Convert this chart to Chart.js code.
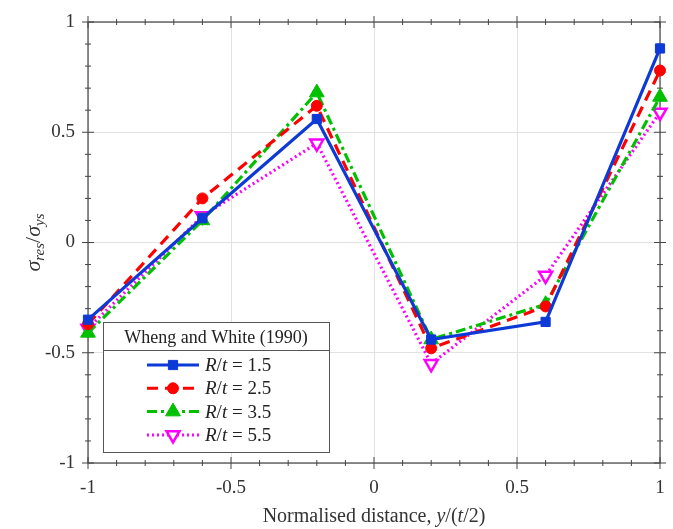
<!DOCTYPE html>
<html>
<head>
<meta charset="utf-8">
<script src="https://cdn.jsdelivr.net/npm/chart.js@4.4.1/dist/chart.umd.min.js"></script>
<style>
  html, body { margin: 0; padding: 0; background: #fff; }
  #wrap { width: 673px; height: 529px; position: relative; }
</style>
</head>
<body>
<div id="wrap"><canvas id="chart"></canvas></div>
<script>
// positions y/(t/2)
const xPositions = [-1, -0.6, -0.2, 0.2, 0.6, 1];
const rt15 = [-0.35, 0.11, 0.56, -0.44, -0.36, 0.88];
const rt25 = [-0.37, 0.20, 0.62, -0.48, -0.29, 0.78];
const rt35 = [-0.41, 0.10, 0.68, -0.44, -0.28, 0.66];
const rt55 = [-0.39, 0.12, 0.45, -0.55, -0.15, 0.59];
const seriesLabels = ["1.5", "2.5", "3.5", "5.5"];
const legendTitle = "Wheng and White (1990)";
const xTicks = [-1, -0.5, 0, 0.5, 1];
const yTicks = [-1, -0.5, 0, 0.5, 1];

const serif = "'Liberation Serif', 'DejaVu Serif', serif";
const axisColor = "#444";

function pts(ys) {
  return xPositions.map((x, i) => ({ x: x, y: ys[i] }));
}

const datasets = [
  {
    label: seriesLabels[0], data: pts(rt15),
    borderColor: "#0d3ad6", backgroundColor: "#0d3ad6",
    borderWidth: 3.2, borderDash: [],
    pointStyle: "rect", pointRadius: 6.5, pointRotation: 0
  },
  {
    label: seriesLabels[1], data: pts(rt25),
    borderColor: "#ff0000", backgroundColor: "#ff0000",
    borderWidth: 3.2, borderDash: [11, 7],
    pointStyle: "circle", pointRadius: 5.5, pointRotation: 0
  },
  {
    label: seriesLabels[2], data: pts(rt35),
    borderColor: "#00c000", backgroundColor: "#00c000",
    borderWidth: 3.2, borderDash: [10, 4, 3, 4],
    pointStyle: "triangle", pointRadius: 8.5, pointRotation: 0
  },
  {
    label: seriesLabels[3], data: pts(rt55),
    borderColor: "#ff00ff", backgroundColor: "#ffffff",
    borderWidth: 3.2, borderDash: [2, 3],
    pointStyle: "triangle", pointRadius: 7.5, pointRotation: 180
  }
];
datasets.forEach((d) => {
  d.pointBorderWidth = d.pointStyle === "triangle" && d.pointRotation ? 2.5 : 1;
  d.clip = false;
});

// frame, crossing ticks, titles, legend
const decor = {
  id: "decor",
  beforeDatasetsDraw(chart) {
    const ctx = chart.ctx;
    const a = chart.chartArea;
    const xs = chart.scales.x;
    const ys = chart.scales.y;
    ctx.save();
    ctx.strokeStyle = axisColor;
    ctx.lineWidth = 1.2;
    ctx.strokeRect(a.left, a.top, a.right - a.left, a.bottom - a.top);

    ctx.lineWidth = 1;
    for (let i = -10; i <= 10; i++) {
      const v = i / 10;
      const major = i % 5 === 0;
      const L = major ? 6 : 3;
      const px = xs.getPixelForValue(v);
      const py = ys.getPixelForValue(v);
      ctx.beginPath();
      ctx.moveTo(px, a.bottom - L); ctx.lineTo(px, a.bottom + L);
      ctx.moveTo(px, a.top - L); ctx.lineTo(px, a.top + L);
      ctx.moveTo(a.left - L, py); ctx.lineTo(a.left + L, py);
      ctx.moveTo(a.right - L, py); ctx.lineTo(a.right + L, py);
      ctx.stroke();
    }
    ctx.restore();
  },
  afterDraw(chart) {
    const ctx = chart.ctx;
    const a = chart.chartArea;
    ctx.save();

    // x title
    ctx.fillStyle = "#333";
    ctx.textBaseline = "alphabetic";
    const parts = [["Normalised distance, ", ""], ["y", "italic "], ["/(", ""], ["t", "italic "], ["/2)", ""]];
    let total = 0;
    parts.forEach((p) => { ctx.font = p[1] + "20px " + serif; total += ctx.measureText(p[0]).width; });
    let cx = (a.left + a.right) / 2 - total / 2;
    parts.forEach((p) => {
      ctx.font = p[1] + "20px " + serif;
      ctx.textAlign = "left";
      ctx.fillText(p[0], cx, 522);
      cx += ctx.measureText(p[0]).width;
    });

    // y title
    ctx.save();
    ctx.translate(34, (a.top + a.bottom) / 2);
    ctx.rotate(-Math.PI / 2);
    const yparts = [["σ", "italic 22px", 0], ["res", "italic 15px", 4], ["/", "22px", 0], ["σ", "italic 22px", 0], ["ys", "italic 15px", 4]];
    total = 0;
    yparts.forEach((p) => { ctx.font = p[1] + " " + serif; total += ctx.measureText(p[0]).width; });
    cx = -total / 2;
    yparts.forEach((p) => {
      ctx.font = p[1] + " " + serif;
      ctx.textAlign = "left";
      ctx.fillText(p[0], cx, 6 + p[2]);
      cx += ctx.measureText(p[0]).width;
    });
    ctx.restore();

    // legend box
    const bx = 103, by = 322, bw = 226, bh = 130;
    ctx.fillStyle = "#fff";
    ctx.fillRect(bx, by, bw, bh);
    ctx.strokeStyle = "#555";
    ctx.lineWidth = 1;
    ctx.strokeRect(bx + 0.5, by + 0.5, bw, bh);
    ctx.beginPath();
    ctx.moveTo(bx, by + 28.5); ctx.lineTo(bx + bw, by + 28.5);
    ctx.stroke();
    ctx.fillStyle = "#222";
    ctx.font = "18px " + serif;
    ctx.textAlign = "center";
    ctx.fillText(legendTitle, bx + bw / 2, by + 21);

    chart.data.datasets.forEach((d, i) => {
      const ly = 365 + i * 23.3;
      ctx.strokeStyle = d.borderColor;
      ctx.lineWidth = 3;
      ctx.setLineDash(d.borderDash);
      ctx.beginPath();
      ctx.moveTo(147, ly); ctx.lineTo(199, ly);
      ctx.stroke();
      ctx.setLineDash([]);
      ctx.fillStyle = d.backgroundColor;
      ctx.strokeStyle = d.borderColor;
      ctx.lineWidth = d.pointBorderWidth;
      Chart.helpers.drawPoint(ctx, {
        pointStyle: d.pointStyle, radius: d.pointRadius, rotation: d.pointRotation,
        borderWidth: d.pointBorderWidth
      }, 173, ly);

      const tp = [["R", "italic "], ["/", ""], ["t", "italic "], [" = " + d.label, ""]];
      let tx = 205;
      ctx.fillStyle = "#222";
      ctx.textAlign = "left";
      tp.forEach((p) => {
        ctx.font = p[1] + "19px " + serif;
        ctx.fillText(p[0], tx, ly + 6);
        tx += ctx.measureText(p[0]).width;
      });
    });
    ctx.restore();
  }
};

const fmt = (v) => String(v);

new Chart(document.getElementById("chart"), {
  type: "line",
  data: { datasets: datasets },
  options: {
    responsive: true,
    maintainAspectRatio: false,
    animation: false,
    layout: { padding: { top: 22, right: 13, left: 0, bottom: 0 } },
    plugins: { legend: { display: false }, tooltip: { enabled: false } },
    scales: {
      x: {
        type: "linear", min: -1, max: 1,
        afterBuildTicks: (s) => { s.ticks = xTicks.map((v) => ({ value: v })); },
        afterFit: (s) => { s.height = 66; s.paddingLeft = 0; s.paddingRight = 0; },
        grid: { color: "#e2e2e2", drawTicks: false },
        border: { display: false },
        ticks: { color: "#333", font: { family: serif, size: 19 }, padding: 14, maxRotation: 0, callback: fmt }
      },
      y: {
        type: "linear", min: -1, max: 1,
        afterBuildTicks: (s) => { s.ticks = yTicks.map((v) => ({ value: v })); },
        afterFit: (s) => { s.width = 88; s.paddingTop = 0; s.paddingBottom = 0; },
        grid: { color: "#e2e2e2", drawTicks: false },
        border: { display: false },
        ticks: { color: "#333", font: { family: serif, size: 19 }, padding: 13, callback: fmt }
      }
    }
  },
  plugins: [decor]
});
</script>
</body>
</html>
